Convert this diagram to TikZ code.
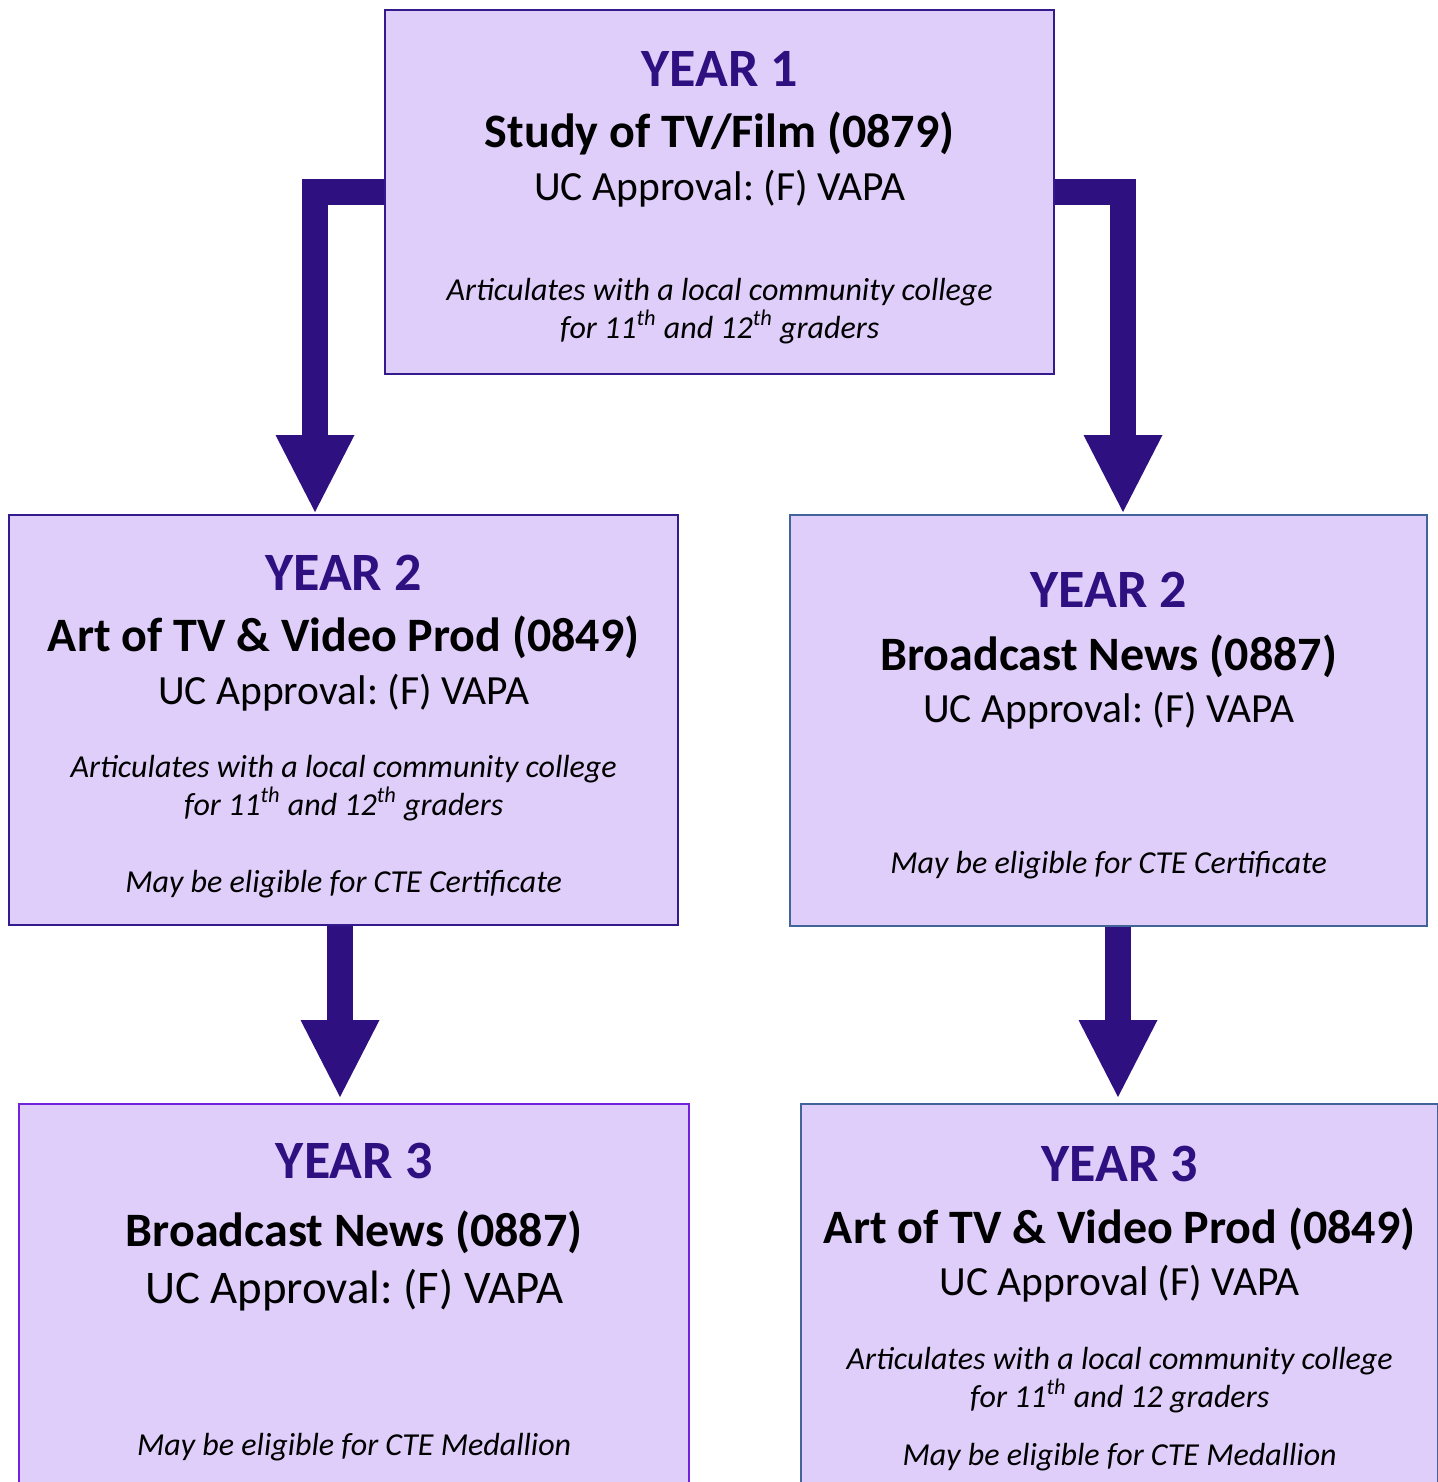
\documentclass[tikz,border=0pt]{standalone}
\usepackage{fontspec}
\setmainfont{Carlito}
\usepackage{tikz}
\usetikzlibrary{arrows.meta}
\usetikzlibrary{backgrounds}
\frenchspacing

\definecolor{boxfill}{RGB}{223,206,250}
\definecolor{indigo}{RGB}{46,16,128}
\definecolor{purpleline}{RGB}{52,26,140}
\definecolor{violetline}{RGB}{112,34,220}
\definecolor{steelline}{RGB}{66,100,155}

\tikzset{
  x=0.5pt, y=-0.5pt,
  yearbox/.style={draw=purpleline, fill=boxfill, line width=1.2pt,
    anchor=north west, inner sep=0pt, minimum width=#1},
  yeartitle/.style={anchor=base, text=indigo, font=\bfseries\fontsize{27}{32}\selectfont},
  course/.style={anchor=base, font=\bfseries\fontsize{24}{29}\selectfont},
  approval/.style={anchor=base, font=\fontsize{20.75}{25}\selectfont},
  remark/.style={anchor=base, align=center, font=\itshape\fontsize{16}{19}\selectfont},
  flow/.style={draw=indigo, line width=13pt, line join=miter,
    -{Triangle[width=39.5pt,length=38.5pt,line width=0pt]}}
}

\begin{document}
\begin{tikzpicture}
\clip (0,0) rectangle (1438,1482);

% boxes
\node[yearbox=334.5pt, minimum height=182pt] (y1) at (384,9) {};
\node[yearbox=334.5pt, minimum height=205pt] (y2l) at (8,514) {};
\node[yearbox=318.5pt, minimum height=205.5pt, draw=steelline] (y2r) at (789,514) {};
\node[yearbox=335pt, minimum height=200pt, draw=violetline] (y3l) at (18,1103) {};
\node[yearbox=318.5pt, minimum height=200pt, draw=steelline] (y3r) at (800,1103) {};

% tips of the arrows
\coordinate (t1) at (315,512);
\coordinate (t2) at (1123,512);
\coordinate (t3) at (340,1097);
\coordinate (t4) at (1118,1097);

\begin{scope}[on background layer]
  \draw[flow] (y1.west) -| (t1);
  \draw[flow] (y1.east) -| (t2);
  \draw[flow] (y2l.south -| t3) -- (t3);
  \draw[flow] (y2r.south -| t4) -- (t4);
\end{scope}

% year 1  (two-line remarks sit on their last baseline)
\node[yeartitle] (y1a) at (y1.north |- 0,87) {YEAR 1};
\node[course] (y1b) at (y1.north |- 0,148) {Study of TV/Film (0879)};
\node[approval] (y1c) at (y1.north |- 0,201) {UC Approval: (F) VAPA};
\node[remark] (y1d) at (y1.north |- 0,338) {Articulates with a local community college\\for 11\textsuperscript{th} and 12\textsuperscript{th} graders};

% year 2, left
\node[yeartitle] (y2la) at (y2l.north |- 0,590) {YEAR 2};
\node[course] (y2lb) at (y2l.north |- 0,651) {Art of TV \& Video Prod (0849)};
\node[approval] (y2lc) at (y2l.north |- 0,704) {UC Approval: (F) VAPA};
\node[remark] (y2ld) at (y2l.north |- 0,815) {Articulates with a local community college\\for 11\textsuperscript{th} and 12\textsuperscript{th} graders};
\node[remark] (y2le) at (y2l.north |- 0,892) {May be eligible for CTE Certificate};

% year 2, right
\node[yeartitle] (y2ra) at (y2r.north |- 0,607) {YEAR 2};
\node[course] (y2rb) at (y2r.north |- 0,670) {Broadcast News (0887)};
\node[approval] (y2rc) at (y2r.north |- 0,722) {UC Approval: (F) VAPA};
\node[remark] (y2rd) at (y2r.north |- 0,873) {May be eligible for CTE Certificate};

% year 3, left
\node[yeartitle] (y3la) at (y3l.north |- 0,1178) {YEAR 3};
\node[course] (y3lb) at (y3l.north |- 0,1246) {Broadcast News (0887)};
\node[approval, font=\fontsize{23.4}{28}\selectfont] (y3lc) at (y3l.north |- 0,1303) {UC Approval: (F) VAPA};
\node[remark] (y3ld) at (y3l.north |- 0,1455) {May be eligible for CTE Medallion};

% year 3, right
\node[yeartitle] (y3ra) at (y3r.north |- 0,1181) {YEAR 3};
\node[course] (y3rb) at (y3r.north |- 0,1243) {Art of TV \& Video Prod (0849)};
\node[approval] (y3rc) at (y3r.north |- 0,1295) {UC Approval (F) VAPA};
\node[remark] (y3rd) at (y3r.north |- 0,1407) {Articulates with a local community college\\for 11\textsuperscript{th} and 12 graders};
\node[remark] (y3re) at (y3r.north |- 0,1465) {May be eligible for CTE Medallion};
\end{tikzpicture}
\end{document}
